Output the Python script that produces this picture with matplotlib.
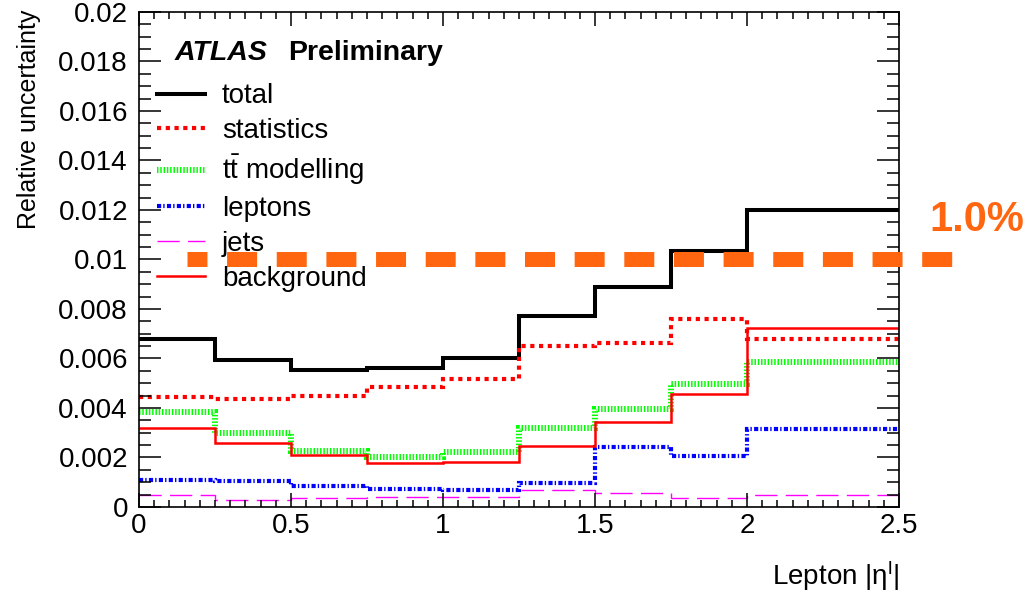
import matplotlib.pyplot as plt
from matplotlib.lines import Line2D
from matplotlib.ticker import MultipleLocator, FuncFormatter

plt.rcParams["font.family"] = ["Liberation Sans", "DejaVu Sans"]
plt.rcParams["mathtext.fontset"] = "custom"
plt.rcParams["mathtext.rm"] = "Liberation Sans"
plt.rcParams["mathtext.it"] = "Liberation Sans:italic"
plt.rcParams["mathtext.bf"] = "Liberation Sans:bold"

# bin edges in lepton |eta| and relative uncertainty per bin
edges = [0.0, 0.25, 0.5, 0.75, 1.0, 1.25, 1.5, 1.75, 2.0, 2.5]
total = [0.0068, 0.00595, 0.00555, 0.0056, 0.0060, 0.00773, 0.00887, 0.01036, 0.0120]
statistics = [0.00443, 0.00436, 0.00449, 0.00483, 0.00518, 0.00649, 0.00664, 0.00758, 0.00679]
ttbar_modelling = [0.00383, 0.00297, 0.00228, 0.00201, 0.00221, 0.00319, 0.00396, 0.00498, 0.00584]
leptons = [0.00108, 0.00104, 0.00086, 0.00073, 0.00070, 0.00096, 0.00244, 0.00204, 0.00317]
jets = [0.0005, 0.00028, 0.00035, 0.00039, 0.00042, 0.00069, 0.00058, 0.00038, 0.00049]
background = [0.00321, 0.00258, 0.00212, 0.00179, 0.00183, 0.00246, 0.00343, 0.00456, 0.00723]

target_level = 0.010

styles = [
    ("total", total, dict(color="black", lw=2.9, ls="-")),
    ("statistics", statistics, dict(color="#ff0000", lw=3.0, ls=(0, (1.0, 1.1)))),
    (r"$\mathrm{t\bar{t}}$ modelling", ttbar_modelling, dict(color="#00ff00", lw=4.3, ls=(0, (0.25, 0.3)))),
    ("leptons", leptons, dict(color="#0000ff", lw=3.0, ls=(0, (1.0, 0.5, 0.33, 0.55)))),
    ("jets", jets, dict(color="#ff00ff", lw=1.0, ls=(0, (16, 6)))),
    ("background", background, dict(color="#ff0000", lw=1.8, ls="-")),
]

fig = plt.figure(figsize=(10.29, 5.98), dpi=100)
ax = fig.add_axes([0.1351, 0.1522, 0.7386, 0.8278])

handles = []
for label, vals, st in styles:
    ax.stairs(vals, edges, color=st["color"], linewidth=st["lw"], linestyle=st["ls"], baseline=None)
    handles.append(Line2D([0], [0], color=st["color"], lw=st["lw"], ls=st["ls"], label=label))

# 1% reference line, running past the frame
ax.plot([0.158, 2.678], [target_level, target_level], color="#ff660f", lw=10.8,
        ls=(0.67, (2.0, 1.31)), solid_capstyle="butt", dash_capstyle="butt", clip_on=False, zorder=5)
ax.text(2.60, target_level + 0.0016, f"{target_level * 100:.1f}%", color="#ff660f",
        fontsize=30, fontweight="bold", ha="left", va="center", clip_on=False)

ax.set_xlim(0, 2.5)
ax.set_ylim(0, 0.02)
ax.xaxis.set_major_locator(MultipleLocator(0.5))
ax.xaxis.set_minor_locator(MultipleLocator(0.05))
ax.yaxis.set_major_locator(MultipleLocator(0.002))
ax.yaxis.set_minor_locator(MultipleLocator(0.0005))
fmt = FuncFormatter(lambda v, p: f"{v:g}")
ax.xaxis.set_major_formatter(fmt)
ax.yaxis.set_major_formatter(fmt)

ax.tick_params(which="both", direction="in", top=True, right=True, width=1.1, labelsize=20)
ax.xaxis.set_tick_params(which="major", length=10, pad=4)
ax.xaxis.set_tick_params(which="minor", length=5)
ax.yaxis.set_tick_params(which="major", length=16, pad=8)
ax.yaxis.set_tick_params(which="minor", length=8.5)
for sp in ax.spines.values():
    sp.set_linewidth(1.2)

ax.set_ylabel("Relative uncertainty", fontsize=18, loc="top")
ax.yaxis.set_label_coords(-0.129, 1.004)
ax.set_xlabel(r"Lepton $\mathrm{|\eta^{l}|}$", fontsize=20, loc="right")
ax.xaxis.set_label_coords(1.0, -0.105)

ax.text(0.047, 0.903, "ATLAS", transform=ax.transAxes, fontsize=20.5,
        fontweight="bold", fontstyle="italic", va="baseline")
ax.text(0.196, 0.903, "Preliminary", transform=ax.transAxes, fontsize=20.5,
        fontweight="bold", va="baseline")

ax.legend(handles=handles, loc="upper left", bbox_to_anchor=(0.0237, 0.856),
          frameon=False, fontsize=20, handlelength=1.73, handletextpad=0.61,
          labelspacing=0.32, borderpad=0, borderaxespad=0)

fig.savefig("out.png", dpi=100)
